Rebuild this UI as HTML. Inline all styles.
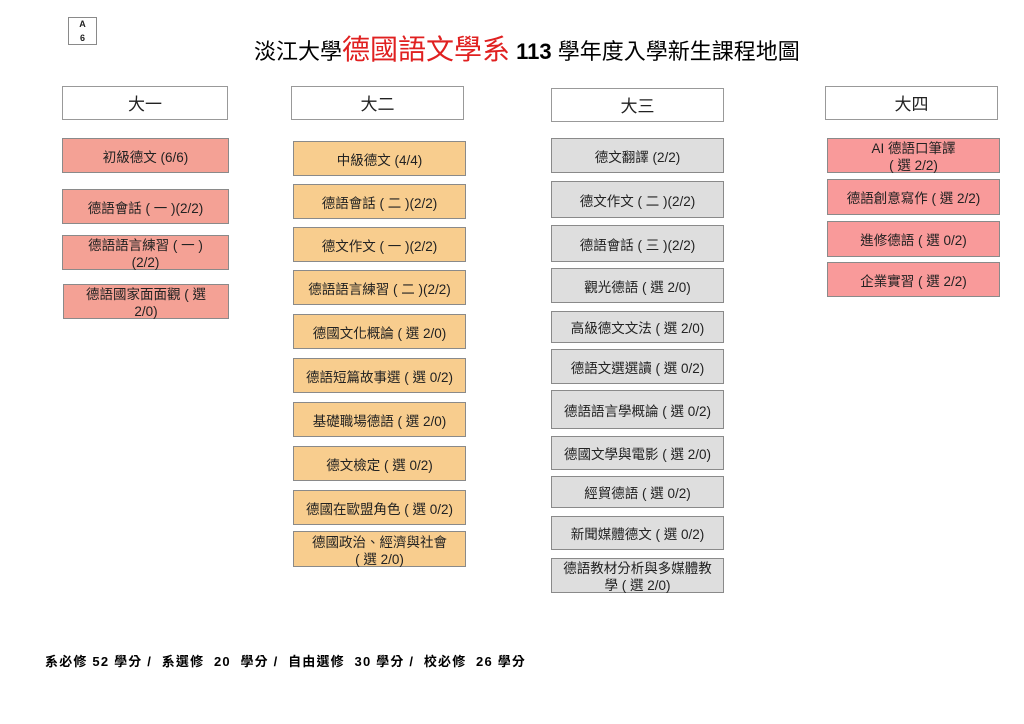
<!DOCTYPE html>
<html><head><meta charset="utf-8"><style>
body{margin:0;width:1024px;height:724px;background:#fff;position:relative;font-family:"Liberation Sans","Noto Sans CJK TC",sans-serif;overflow:hidden}
.b{position:absolute;box-sizing:border-box;border:1px solid #8a8a8a;display:flex;align-items:center;justify-content:center;text-align:center;font-size:13.5px;line-height:17px;color:#222;padding-top:3px}
.h{background:#fff;font-size:17px;border-color:#999}
.p{background:#f4a195}.o{background:#f8cd8e}.g{background:#dedede}.r{background:#f99a9a}
</style></head><body>
<div class="b" style="left:68px;top:17px;width:29px;height:28px;font-size:9px;line-height:14px;font-weight:bold;flex-direction:column;padding-top:0">A<br>6</div>
<div style="position:absolute;left:254px;top:33px;font-size:22px;white-space:nowrap;line-height:34px">淡江大學<span style="color:#e02020;font-size:28px">德國語文學系</span> <b>113</b> 學年度入學新生課程地圖</div>

<div class="b h" style="left:62px;top:86px;width:166px;height:34px">大一</div>
<div class="b h" style="left:291px;top:86px;width:173px;height:34px">大二</div>
<div class="b h" style="left:551px;top:88px;width:173px;height:34px">大三</div>
<div class="b h" style="left:825px;top:86px;width:173px;height:34px">大四</div>

<div class="b p" style="left:62px;top:138px;width:167px;height:35px">初級德文 (6/6)</div>
<div class="b p" style="left:62px;top:189px;width:167px;height:35px">德語會話 ( 一 )(2/2)</div>
<div class="b p" style="left:62px;top:235px;width:167px;height:35px">德語語言練習 ( 一 )<br>(2/2)</div>
<div class="b p" style="left:63px;top:284px;width:166px;height:35px">德語國家面面觀 ( 選<br>2/0)</div>

<div class="b o" style="left:293px;top:141px;width:173px;height:35px">中級德文 (4/4)</div>
<div class="b o" style="left:293px;top:184px;width:173px;height:35px">德語會話 ( 二 )(2/2)</div>
<div class="b o" style="left:293px;top:227px;width:173px;height:35px">德文作文 ( 一 )(2/2)</div>
<div class="b o" style="left:293px;top:270px;width:173px;height:35px">德語語言練習 ( 二 )(2/2)</div>
<div class="b o" style="left:293px;top:314px;width:173px;height:35px">德國文化概論 ( 選 2/0)</div>
<div class="b o" style="left:293px;top:358px;width:173px;height:35px">德語短篇故事選 ( 選 0/2)</div>
<div class="b o" style="left:293px;top:402px;width:173px;height:35px">基礎職場德語 ( 選 2/0)</div>
<div class="b o" style="left:293px;top:446px;width:173px;height:35px">德文檢定 ( 選 0/2)</div>
<div class="b o" style="left:293px;top:490px;width:173px;height:35px">德國在歐盟角色 ( 選 0/2)</div>
<div class="b o" style="left:293px;top:531px;width:173px;height:36px">德國政治、經濟與社會<br>( 選 2/0)</div>

<div class="b g" style="left:551px;top:138px;width:173px;height:35px">德文翻譯 (2/2)</div>
<div class="b g" style="left:551px;top:181px;width:173px;height:37px">德文作文 ( 二 )(2/2)</div>
<div class="b g" style="left:551px;top:225px;width:173px;height:37px">德語會話 ( 三 )(2/2)</div>
<div class="b g" style="left:551px;top:268px;width:173px;height:35px">觀光德語 ( 選 2/0)</div>
<div class="b g" style="left:551px;top:311px;width:173px;height:32px">高級德文文法 ( 選 2/0)</div>
<div class="b g" style="left:551px;top:349px;width:173px;height:35px">德語文選選讀 ( 選 0/2)</div>
<div class="b g" style="left:551px;top:390px;width:173px;height:39px">德語語言學概論 ( 選 0/2)</div>
<div class="b g" style="left:551px;top:436px;width:173px;height:34px">德國文學與電影 ( 選 2/0)</div>
<div class="b g" style="left:551px;top:476px;width:173px;height:32px">經貿德語 ( 選 0/2)</div>
<div class="b g" style="left:551px;top:516px;width:173px;height:34px">新聞媒體德文 ( 選 0/2)</div>
<div class="b g" style="left:551px;top:558px;width:173px;height:35px">德語教材分析與多媒體教<br>學 ( 選 2/0)</div>

<div class="b r" style="left:827px;top:138px;width:173px;height:35px">AI 德語口筆譯<br>( 選 2/2)</div>
<div class="b r" style="left:827px;top:179px;width:173px;height:36px">德語創意寫作 ( 選 2/2)</div>
<div class="b r" style="left:827px;top:221px;width:173px;height:36px">進修德語 ( 選 0/2)</div>
<div class="b r" style="left:827px;top:262px;width:173px;height:35px">企業實習 ( 選 2/2)</div>

<div style="position:absolute;left:45px;top:653px;font-size:13px;font-weight:bold;white-space:nowrap;line-height:18px;letter-spacing:1.2px">系必修 52 學分 / &nbsp;系選修 &nbsp;20 &nbsp;學分 / &nbsp;自由選修 &nbsp;30 學分 / &nbsp;校必修 &nbsp;26 學分</div>
</body></html>
